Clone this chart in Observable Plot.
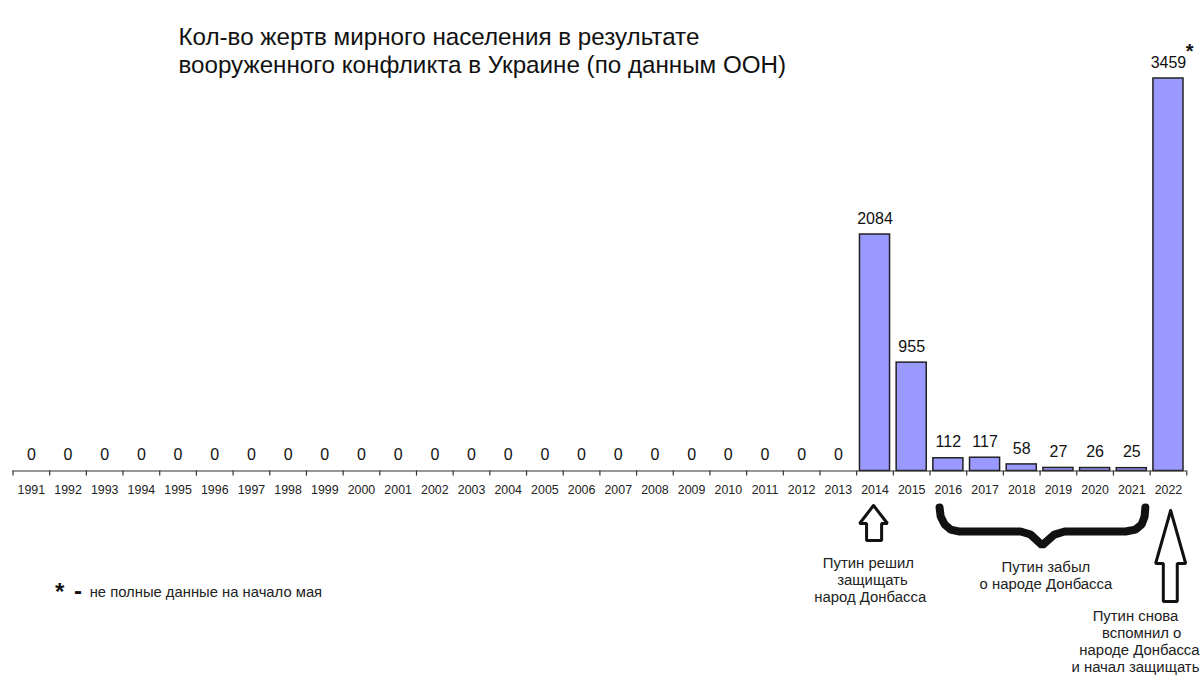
<!DOCTYPE html>
<html><head><meta charset="utf-8">
<script src="https://cdn.jsdelivr.net/npm/d3@7"></script>
<script src="https://cdn.jsdelivr.net/npm/@observablehq/plot@0.6"></script>
<style>html,body{margin:0;padding:0;background:#fff;overflow:hidden}svg{display:block}</style>
</head><body><div id="chart"></div>
<script>
const years = d3.range(1991, 2023);
const victims = [0,0,0,0,0,0,0,0,0,0,0,0,0,0,0,0,0,0,0,0,0,0,0,2084,955,112,117,58,27,26,25,3459];
const bars = years.map((year, i) => ({year, value: victims[i]}));
const tickEdges = [...years.map(y => y - 0.5), 2022.5];

const titleLines = [
  {text: "Кол-во жертв мирного населения в результате", x: 1995.01, y: 3820},
  {text: "вооруженного конфликта в Украине (по данным ООН)", x: 1995.01, y: 3574}
];
const notes = [
  {text: "Путин решил", x: 2013.82, y: -815},
  {text: "защищать", x: 2013.93, y: -965},
  {text: "народ Донбасса", x: 2013.87, y: -1115},
  {text: "Путин забыл", x: 2018.66, y: -850},
  {text: "о народе Донбасса", x: 2018.66, y: -1000},
  {text: "Путин снова", x: 2021.10, y: -1282},
  {text: "вспомнил о", x: 2021.27, y: -1432},
  {text: "народе Донбасса", x: 2021.21, y: -1582},
  {text: "и начал защищать", x: 2021.10, y: -1732}
];
const footnote = [{text: "не полные данные на начало мая", x: 1992.59, y: -1071}];
const stars = [
  {text: "*", x: 1991.77, y: -1070, size: 24},
  {text: "-", x: 1992.27, y: -1059, size: 24},
  {text: "*", x: 2022.58, y: 3698, size: 20}
];
const arrow2014 = [[2013.96,-304],[2014.34,-463],[2014.18,-463],[2014.18,-612],[2013.77,-612],[2013.77,-463],[2013.58,-463],[2013.96,-304]];
const arrow2022 = [[2022.06,-348],[2022.47,-815],[2022.24,-815],[2022.24,-1150],[2021.86,-1150],[2021.86,-815],[2021.65,-815],[2022.06,-348]];
const brace = [[2015.76,-322],[2015.79,-401],[2015.90,-471],[2016.06,-516],[2016.28,-533],[2017.97,-533],[2018.24,-560],[2018.56,-655],[2018.89,-560],[2019.17,-533],[2020.83,-533],[2021.10,-516],[2021.27,-471],[2021.35,-401],[2021.37,-322]];

const font = "'Liberation Sans', Arial, sans-serif";
const chart = Plot.plot({
  width: 1200, height: 687,
  marginLeft: 12.5, marginRight: 13.7, marginTop: 78, marginBottom: 216.5,
  style: {background: "#fff", fontFamily: font, overflow: "visible"},
  x: {domain: [1990.5, 2022.5], label: null},
  y: {domain: [0, 3459], label: null},
  marks: [
    Plot.rectY(bars.filter(d => d.value > 0), {x1: d => d.year - 0.41, x2: d => d.year + 0.41, y: "value", fill: "#9999ff", stroke: "#222", strokeWidth: 1.5}),
    Plot.ruleY([0], {stroke: "#333", strokeWidth: 1.2}),
    Plot.ruleX(tickEdges, {x: d => d, y1: 0, y2: -45, stroke: "#333", strokeWidth: 1.2}),
    Plot.axisX({ticks: years, tickFormat: "d", tickSize: 0, tickPadding: 14, fontSize: 12.4, fill: "#222", label: null, anchor: "bottom"}),
    Plot.axisY({ticks: [], label: null, tickSize: 0}),
    Plot.text(bars, {x: "year", y: "value", text: d => String(d.value), dy: -16, fontSize: 16, fill: "#111"}),
    Plot.text(titleLines, {x: "x", y: "y", text: "text", textAnchor: "start", fontSize: 24.2, fill: "#111"}),
    Plot.text(notes, {x: "x", y: "y", text: "text", fontSize: 14.9, fill: "#222"}),
    Plot.text(footnote, {x: "x", y: "y", text: "text", textAnchor: "start", fontSize: 14.8, fill: "#222"}),
    Plot.text(stars, {x: "x", y: "y", text: "text", fontSize: d => d.size, fontWeight: "bold", fill: "#111"}),
    Plot.line(arrow2014, {x: d => d[0], y: d => d[1], stroke: "#111", strokeWidth: 3, strokeLinejoin: "miter"}),
    Plot.line(arrow2022, {x: d => d[0], y: d => d[1], stroke: "#111", strokeWidth: 3, strokeLinejoin: "miter"}),
    Plot.line(brace, {x: d => d[0], y: d => d[1], stroke: "#111", strokeWidth: 8, strokeLinejoin: "miter", curve: "linear"})
  ]
});
document.getElementById("chart").append(chart);
</script></body></html>
